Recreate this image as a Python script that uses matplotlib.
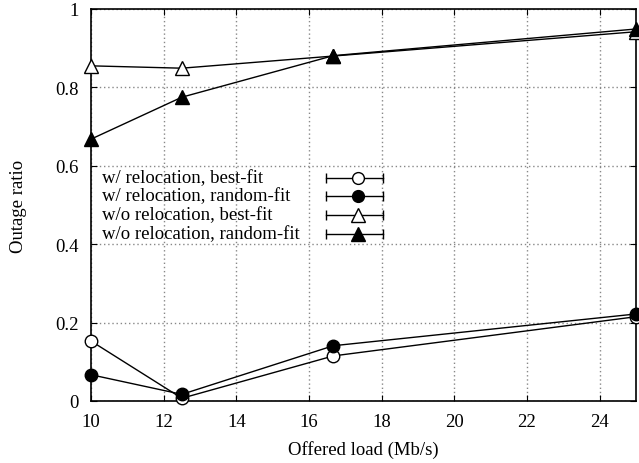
import numpy as np
import matplotlib
matplotlib.use('Agg')
import matplotlib.pyplot as plt

# offered load (Mb/s)
load = [10, 12.5, 16.67, 25]

reloc_best = [0.153, 0.007, 0.115, 0.215]
reloc_random = [0.067, 0.017, 0.141, 0.222]
noreloc_best = [0.855, 0.849, 0.880, 0.942]
noreloc_random = [0.668, 0.775, 0.881, 0.949]

labels = ['w/ relocation, best-fit', 'w/ relocation, random-fit',
          'w/o relocation, best-fit', 'w/o relocation, random-fit']

plt.rcParams['font.family'] = ['Liberation Serif', 'DejaVu Serif']
fs = 13.5

fig = plt.figure(figsize=(6.39, 4.64), dpi=100)
ax = fig.add_axes([91 / 639, 62 / 464, 545 / 639, 392 / 464])

series = [
    (reloc_best, 'o', 'white'),
    (reloc_random, 'o', 'black'),
    (noreloc_best, '^', 'white'),
    (noreloc_random, '^', 'black'),
]
for vals, m, fc in series:
    ax.plot(load, vals, color='black', lw=1, marker=m, ms=9 if m == 'o' else 10,
            mfc=fc, mec='black', mew=1, clip_on=False, zorder=3)

ax.set_xlim(10, 25)
ax.set_ylim(0, 1)
ax.set_xticks([10, 12, 14, 16, 18, 20, 22, 24])
ax.set_yticks([0, 0.2, 0.4, 0.6, 0.8, 1])
ax.set_yticklabels(['0', '0.2', '0.4', '0.6', '0.8', '1'])
ax.tick_params(direction='in', top=True, right=True, length=4, labelsize=fs)
ax.tick_params(axis='x', pad=9)
ax.tick_params(axis='y', pad=9)
ax.grid(True, color='#888888', ls=(0, (1, 2)), lw=1)
for s in ax.spines.values():
    s.set_linewidth(1.2)

ax.set_xlabel('Offered load (Mb/s)', fontsize=fs, labelpad=7)
ax.set_ylabel('Outage ratio', fontsize=fs, labelpad=20)

# gnuplot-style key: text left, sample with x error bar caps on the right
key_y = [0.569, 0.523, 0.475, 0.426]
for (vals, m, fc), lab, ky in zip(series, labels, key_y):
    ax.text(0.02, ky, lab, transform=ax.transAxes, va='center', ha='left',
            fontsize=fs, zorder=4)
    ax.plot([0.431, 0.535], [ky, ky], transform=ax.transAxes, color='black',
            lw=1, marker='|', ms=7, mew=1, zorder=4)
    ax.plot([0.49], [ky], transform=ax.transAxes, color='black', ls='none',
            marker=m, ms=8.5 if m == 'o' else 9.5, mfc=fc, mec='black', mew=1,
            zorder=5)

fig.savefig('out.png', dpi=100)
